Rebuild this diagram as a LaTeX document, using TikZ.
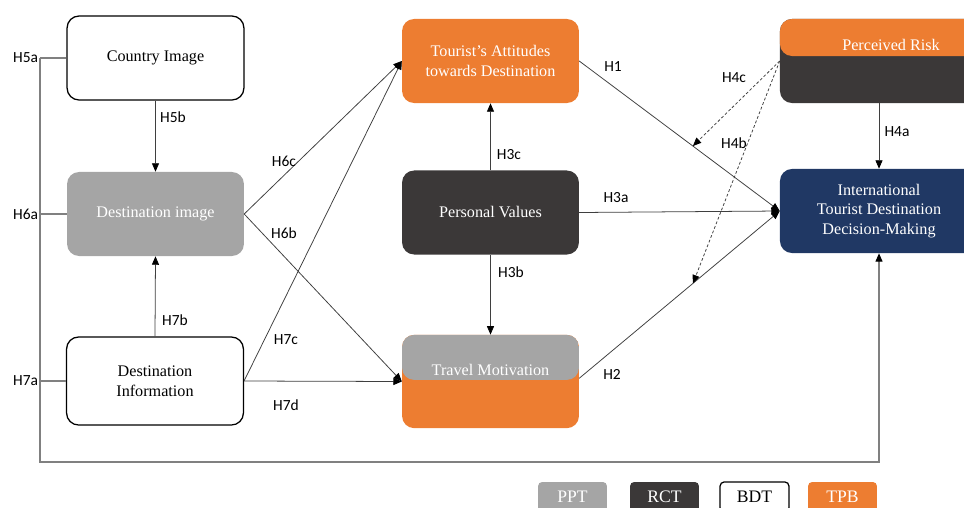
\documentclass[tikz,border=0pt]{standalone}
\usepackage{fontspec}
\setmainfont{Liberation Serif}
\newfontfamily\labfont{Carlito}
\usetikzlibrary{arrows.meta,calc}

\definecolor{tpb}{HTML}{ED7D31}
\definecolor{ppt}{HTML}{A5A5A5}
\definecolor{rct}{HTML}{3B3838}
\definecolor{itdmblue}{HTML}{203864}
\definecolor{wire}{HTML}{3F3F3F}
\definecolor{loopgray}{HTML}{808080}

\tikzset{
	box/.style={rectangle, rounded corners=0.3cm, minimum width=4.42cm, minimum height=2.1cm, align=center, inner sep=0pt, font=\fontsize{11.5}{14}\selectfont},
	bdtbox/.style={box, draw=black, line width=0.9pt, fill=white},
	pptbox/.style={box, fill=ppt, text=white},
	rctbox/.style={box, fill=rct, text=white},
	tpbbox/.style={box, fill=tpb, text=white},
	hyp/.style={inner sep=1pt, text=black, font=\labfont\fontsize{11}{12}\selectfont},
	link/.style={wire, line width=0.55pt, -{Triangle[length=6pt,width=5pt,color=black]}},
	riskline/.style={link, dash pattern=on 2pt off 1.5pt},
	loopline/.style={loopgray, line width=0.8pt},
	keybox/.style={rectangle, rounded corners=0.1cm, minimum width=1.72cm, minimum height=0.75cm, inner sep=0pt, font=\fontsize{12.5}{14}\selectfont}
}

\begin{document}
\begin{tikzpicture}[x=0.025cm, y=-0.025cm]
	\useasboundingbox (0,0) rectangle (964,507);
	\clip (0,0) rectangle (964,507);

	% left column
	\node[bdtbox] (ci) at (155.5,58) {Country Image};
	\node[pptbox] (di) at (155.5,214) {Destination image};
	\node[bdtbox, minimum height=2.2cm] (dinf) at (155,381) {Destination\\Information};

	% middle column
	\node[tpbbox] (ta) at (490.5,61) {Tourist’s Attitudes\\towards Destination};
	\node[rctbox] (pv) at (490.5,212.5) {Personal Values};
	\node[tpbbox, minimum height=2.33cm, path picture={\fill[ppt] (path picture bounding box.north west) rectangle ([yshift=-1.125cm]path picture bounding box.north east);}] (tm) at (490.5,381.5) {};
	\node[text=white, font=\fontsize{11.5}{14}\selectfont] (tmtext) at (490.5,370) {Travel Motivation};

	% right column
	\node[rctbox, minimum width=4.95cm, path picture={\fill[tpb] (path picture bounding box.north west) rectangle ([yshift=-0.925cm]path picture bounding box.north east);}] (pr) at (879,61) {};
	\node[text=white, font=\fontsize{11.5}{14}\selectfont] (prtext) at (891,45) {Perceived Risk};
	\node[box, minimum width=4.95cm, fill=itdmblue, text=white] (itdm) at (879,211) {International\\Tourist Destination\\Decision-Making};

	\draw[link] (ci.south) -- (di.north);
	\draw[link] (dinf.north) -- (di.south);
	\draw[link] (di.east) -- (ta.west);
	\draw[link] (di.east) -- (tm.west);
	\draw[link] (dinf.east) -- (ta.west);
	\draw[link] (dinf.east) -- (tm.west);
	\draw[link] (pv.north) -- (ta.south);
	\draw[link] (pv.south) -- (tm.north);
	\draw[link] (pv.east) -- (itdm.west);
	\draw[link] (ta.east) -- (itdm.west);
	\draw[link] ([yshift=0.08cm]tm.east) -- (itdm.west);
	\draw[link] (pr.south) -- (itdm.north);

	\coordinate (h1mid) at ($(ta.east)!0.567!(itdm.west)$);
	\coordinate (h2mid) at ($([yshift=0.08cm]tm.east)!0.567!(itdm.west)$);
	\draw[riskline] (pr.west) -- (h1mid);
	\draw[riskline] (pr.west) -- (h2mid);

	% outer loop to the decision
	\coordinate (loopcorner) at (40,462);
	\draw[loopline] (ci.west) -- (ci.west -| loopcorner) node[hyp, anchor=east] (h5a) {H5a};
	\draw[loopline] (di.west) -- (di.west -| loopcorner) node[hyp, anchor=east] (h6a) {H6a};
	\draw[loopline] (dinf.west) -- (dinf.west -| loopcorner) node[hyp, anchor=east] (h7a) {H7a};
	\draw[loopline, -{Triangle[length=6pt,width=5pt,color=black]}] (ci.west -| loopcorner) -- (loopcorner) -| (itdm.south);

	\node[hyp] (h5b) at (173,117) {H5b};
	\node[hyp] (h7b) at (175,320) {H7b};
	\node[hyp] (h6c) at (284,161) {H6c};
	\node[hyp] (h6b) at (284,233) {H6b};
	\node[hyp] (h7c) at (286,340) {H7c};
	\node[hyp] (h7d) at (286,405) {H7d};
	\node[hyp] (h3c) at (509,155) {H3c};
	\node[hyp] (h3b) at (511,272) {H3b};
	\node[hyp] (h1) at (613,67) {H1};
	\node[hyp] (h3a) at (616,198) {H3a};
	\node[hyp] (h2) at (612,374) {H2};
	\node[hyp] (h4c) at (734,78) {H4c};
	\node[hyp] (h4b) at (734,143) {H4b};
	\node[hyp] (h4a) at (897,132) {H4a};

	% key
	\node[keybox, fill=ppt, text=white] (keyppt) at (572.5,497) {PPT};
	\node[keybox, fill=rct, text=white] (keyrct) at (664.5,497) {RCT};
	\node[keybox, draw=black, line width=0.9pt] (keybdt) at (754.5,497) {BDT};
	\node[keybox, fill=tpb, text=white] (keytpb) at (842.5,497) {TPB};
\end{tikzpicture}
\end{document}
